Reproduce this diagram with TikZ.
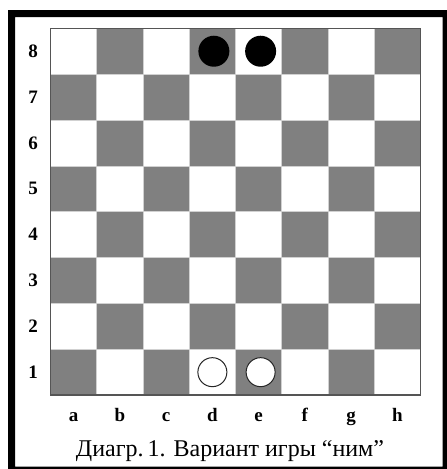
\documentclass[tikz,border=0pt]{standalone}
\usepackage{fontspec}
\setmainfont{Liberation Serif}
\definecolor{sqdark}{HTML}{808080}
\definecolor{edgegray}{HTML}{555555}
\begin{document}
\begin{tikzpicture}[x=1pt,y=-1pt,
  darksq/.style={fill=sqdark},
  gridline/.style={draw=black!18,line width=0.6pt},
  boardedge/.style={draw=edgegray,line width=1.3pt},
  ranklbl/.style={font=\fontsize{19}{19}\selectfont\bfseries,inner sep=0pt},
  filelbl/.style={font=\fontsize{19}{19}\selectfont\bfseries,inner sep=0pt,anchor=base},
  caption/.style={font=\fontsize{24}{24}\selectfont,inner sep=0pt,anchor=base},
  blackpc/.style={circle,fill=black,minimum size=31pt,inner sep=0pt},
  whitepc/.style={circle,fill=white,draw=black!85,line width=1pt,minimum size=29pt,inner sep=0pt}]
\useasboundingbox (0,0) rectangle (447,469);
\fill[white] (0,0) rectangle (447,469);
\fill[black,even odd rule] (8,10) rectangle (447,469) (15,17) rectangle (442.7,466.7);
\def\bx{50.5}\def\by{28.3}\def\sw{46.25}\def\sh{45.85}
\foreach \c in {0,...,7}{
  \foreach \r in {0,...,7}{
    \ifodd\numexpr\c+\r\relax
      \fill[darksq] ({\bx+\c*\sw},{\by+\r*\sh}) rectangle ++(\sw,\sh);
    \fi
  }
}
\foreach \i in {1,...,7}{
  \draw[gridline] ({\bx+\i*\sw},\by) -- ++(0,{8*\sh});
  \draw[gridline] (\bx,{\by+\i*\sh}) -- ++({8*\sw},0);
}
\draw[boardedge] (\bx,\by) rectangle ++({8*\sw},{8*\sh});
\foreach \n [count=\r from 0] in {8,7,6,5,4,3,2,1}{
  \node[ranklbl] (rank\n) at (33,{\by+(\r+0.5)*\sh}) {\n};
}
\foreach \f [count=\c from 0] in {a,b,c,d,e,f,g,h}{
  \node[filelbl] (file\f) at ({\bx+(\c+0.5)*\sw},421) {\f};
}
\node[caption] (cap) at (230,456) {Диагр.\,1. Вариант игры “ним”};
\node[blackpc] (pd8) at ({\bx+3.5*\sw+1.5},{\by+0.5*\sh}) {};
\node[blackpc] (pe8) at ({\bx+4.5*\sw+2},{\by+0.5*\sh}) {};
\node[whitepc] (pd1) at ({\bx+3.5*\sw},{\by+7.5*\sh}) {};
\node[whitepc] (pe1) at ({\bx+4.5*\sw+2},{\by+7.5*\sh}) {};
\end{tikzpicture}
\end{document}
